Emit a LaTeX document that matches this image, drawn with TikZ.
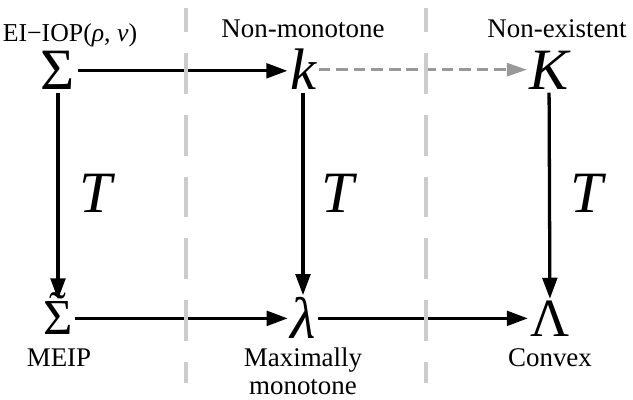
\documentclass[tikz,border=0pt]{standalone}
\usepackage{fontspec}
\setmainfont{Liberation Serif}
\usepackage{xcolor}
\usepackage{tikz}
\usetikzlibrary{arrows.meta, calc}
\newcommand{\tildesig}{\ooalign{Σ\cr\hidewidth\raisebox{0.17em}{\char"02DC}\hidewidth\cr}}
\tikzset{
  sym/.style     = {inner sep=1pt, outer sep=1.2pt, anchor=base, font=\fontsize{50}{50}\selectfont},
  lbl/.style     = {inner sep=0pt, anchor=base, font=\fontsize{23}{23.5}\selectfont},
  arrow/.style   = {line width=2.8pt, -{Triangle[length=18pt, width=12.5pt]}},
  dasharrow/.style = {line width=2.6pt, black!40, dash pattern=on 10pt off 5pt,
                      -{Triangle[length=17pt, width=11pt]}},
  sepline/.style = {line width=3.4pt, black!20, dash pattern=on 34.9pt off 17.9pt,
                    dash phase=14.5pt},
}

\begin{document}
\begin{tikzpicture}[x=0.03cm, y=-0.03cm]
    \useasboundingbox (0, 0) rectangle (633, 400);

    % symbols
    \node[sym] (sig) at (58, 90) {Σ};
    \node[sym] (k)   at (303, 90) {\itshape k};
    \node[sym] (K)   at (549, 90) {\itshape K};
    \node[sym, font=\fontsize{43}{43}\selectfont] (sigt) at (58, 335) {\tildesig};
    \node[sym] (lam) at (303, 339) {\itshape λ};
    \node[sym, font=\fontsize{46}{46}\selectfont] (Lam) at (550, 337) {Λ};

    \node[sym] (T1) at (96, 213)  {\itshape T};
    \node[sym] (T2) at (338, 213) {\itshape T};
    \node[sym] (T3) at (587, 213) {\itshape T};

    % labels
    \node[lbl, font=\fontsize{22}{24}\selectfont] (eiiop) at (70, 42)
      {EI−IOP(\textit{ρ}, \textit{ν})};
    \node[lbl] (nonmono) at (303, 37.5) {Non-monotone};
    \node[lbl] (nonex)   at (557, 38)   {Non-existent};
    \node[lbl] (meip)    at (59, 367)   {MEIP};
    \node[lbl, align=center, anchor=north] (maxmono) at (303, 348) {Maximally\\monotone};
    \node[lbl] (convex)  at (550, 367)  {Convex};

    \draw[arrow] (sig.east) -- (sig.east -| k.west);
    \draw[dasharrow] (k.east) -- (k.east -| K.west);
    \draw[arrow] (sig) -- (sigt);
    \draw[arrow] (k) -- (lam);
    \draw[arrow] (K) -- (Lam);
    \draw[arrow] (sigt.east |- lam) -- (lam.west);
    \draw[arrow] (lam.east) -- (lam.east -| Lam.west);

    % separators
    \draw[sepline] (186, 8) -- (186, 383);
    \draw[sepline] (426, 8) -- (426, 383);

  \end{tikzpicture}
\end{document}
